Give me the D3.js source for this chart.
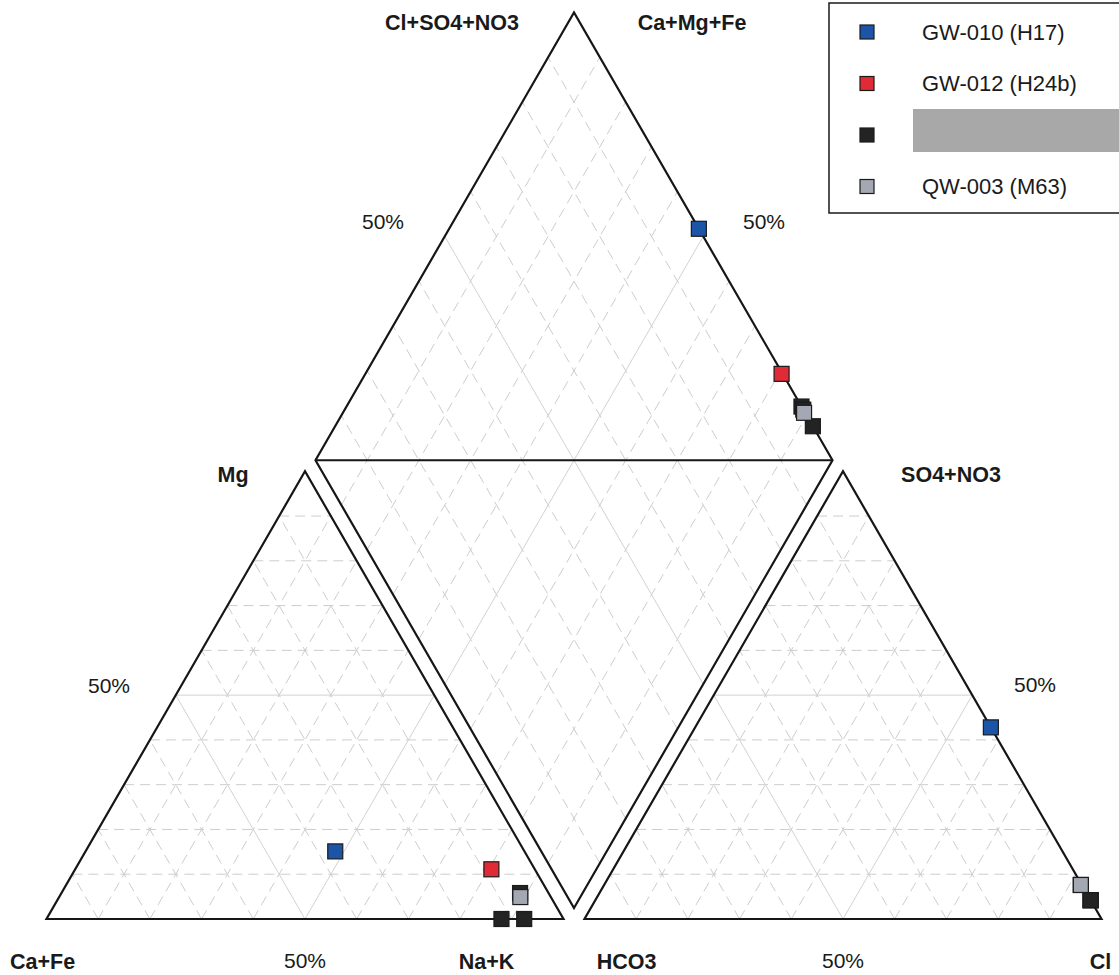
<!DOCTYPE html>
<html>
<head>
<meta charset="utf-8">
<script src="https://cdn.jsdelivr.net/npm/d3@7"></script>
<style>
  html, body { margin: 0; padding: 0; background: #fff; }
  svg { display: block; }
  text { font-family: "Liberation Sans", Arial, Helvetica, sans-serif; fill: #1a1a1a; }
</style>
</head>
<body>
<svg id="chart" width="1119" height="975"></svg>
<script>
// Piper diagram: cation triangle, anion triangle and the central diamond.

// Series (legend entries); the third entry's name is masked in the legend.
const seriesNames  = ["GW-010 (H17)", "GW-012 (H24b)", null, "QW-003 (M63)"];
const seriesColors = ["#1c54a8", "#e02a36", "#232323", "#a3a8b2"];

// One entry per sample (meq %), drawn in this order.
const sampleSeries = [0, 1, 2, 2, 2, 3];
const caFe   = [36.6, 8.4, 12.0, 7.6, 5.5, 5.9];
const mg     = [15.1, 11.1, 0.0, 0.0, 5.8, 4.9];
const naK    = caFe.map((v, i) => 100 - v - mg[i]);
const cl     = [57.2, 92.2, 95.8, 95.8, 95.8, 92.2];
const so4no3 = [42.8, 7.6, 4.2, 4.2, 4.2, 7.6];
const hco3   = cl.map((v, i) => 100 - v - so4no3[i]);

// Grid ticks (percent)
const gridTicks = [10, 20, 30, 40, 50, 60, 70, 80, 90];

// ---- geometry in units of one triangle side ----
const S = Math.sqrt(3) / 2;      // triangle height
const GAP = 21 / 517;            // gap between the two triangles
const DIA_LIFT = 11 / 517;       // diamond bottom vertex above the baseline
const RIGHT_X0 = 1 + GAP;        // left vertex of the anion triangle
const DIA_X0 = 1 + GAP / 2;      // bottom vertex of the diamond

const x = d3.scaleLinear().domain([0, 2 + GAP]).range([46.5, 1101.5]);
const y = d3.scaleLinear().domain([0, 1]).range([919, 402]);

const svg = d3.select("#chart");

// cation triangle: left = Ca+Fe, right = Na+K, top = Mg
function cationXY(ca, na, m) {
  const t = ca + na + m;
  return [(na + m / 2) / t, (m / t) * S];
}
// anion triangle: left = HCO3, right = Cl, top = SO4+NO3
function anionXY(h, c, s) {
  const t = h + c + s;
  return [RIGHT_X0 + (c + s / 2) / t, (s / t) * S];
}
// diamond: a = Cl+SO4+NO3 fraction, k = Ca+Mg+Fe fraction
function diamondXY(a, k) {
  return [DIA_X0 + 0.5 * a - 0.5 * k, DIA_LIFT + S * a + S * k];
}

const px = p => [x(p[0]), y(p[1])];
const line = d3.line().x(d => x(d[0])).y(d => y(d[1]));

// ---- grid ----
const gridG = svg.append("g").attr("fill", "none");
function gridLine(a, b, t) {
  const solid = t === 50;
  gridG.append("path")
    .attr("d", line([a, b]))
    .attr("stroke", solid ? "#d2d2d2" : "#cdcdcd")
    .attr("stroke-width", 1)
    .attr("stroke-dasharray", solid ? null : "10,6");
}

gridTicks.forEach(t => {
  const f = t / 100;
  // cation triangle
  gridLine(cationXY(1 - f, 0, f), cationXY(0, 1 - f, f), t);     // constant Mg
  gridLine(cationXY(f, 1 - f, 0), cationXY(f, 0, 1 - f), t);     // constant Ca
  gridLine(cationXY(1 - f, f, 0), cationXY(0, f, 1 - f), t);     // constant Na
  // anion triangle
  gridLine(anionXY(1 - f, 0, f), anionXY(0, 1 - f, f), t);
  gridLine(anionXY(f, 1 - f, 0), anionXY(f, 0, 1 - f), t);
  gridLine(anionXY(1 - f, f, 0), anionXY(0, f, 1 - f), t);
  // diamond
  gridLine(diamondXY(f, 0), diamondXY(f, 1), t);
  gridLine(diamondXY(0, f), diamondXY(1, f), t);
});

// ---- outlines ----
const outG = svg.append("g").attr("fill", "none")
  .attr("stroke", "#161616").attr("stroke-width", 2.2).attr("stroke-linejoin", "miter");
outG.append("path").attr("d", line([cationXY(1,0,0), cationXY(0,1,0), cationXY(0,0,1)]) + "Z");
outG.append("path").attr("d", line([anionXY(1,0,0), anionXY(0,1,0), anionXY(0,0,1)]) + "Z");
outG.append("path").attr("d", line([diamondXY(0,0), diamondXY(1,0), diamondXY(1,1), diamondXY(0,1)]) + "Z");
outG.append("path").attr("d", line([diamondXY(0,1), diamondXY(1,0)]));

// ---- samples ----
const MS = 15;
const markG = svg.append("g");
function drawMark(p, color) {
  const [cx, cy] = px(p);
  markG.append("rect")
    .attr("x", cx - MS / 2).attr("y", cy - MS / 2)
    .attr("width", MS).attr("height", MS)
    .attr("fill", color).attr("stroke", "#1b1b1b").attr("stroke-width", 1.2);
}
sampleSeries.forEach((s, i) => {
  const col = seriesColors[s];
  drawMark(cationXY(caFe[i], naK[i], mg[i]), col);
  drawMark(anionXY(hco3[i], cl[i], so4no3[i]), col);
  const a = (cl[i] + so4no3[i]) / (cl[i] + so4no3[i] + hco3[i]);
  const k = (caFe[i] + mg[i]) / (caFe[i] + mg[i] + naK[i]);
  drawMark(diamondXY(a, k), col);
});

// ---- labels ----
const labG = svg.append("g");
function label(txt, xx, yy, bold, anchor) {
  labG.append("text").attr("x", xx).attr("y", yy)
    .attr("text-anchor", anchor || "middle")
    .attr("font-size", bold ? 21.5 : 21)
    .attr("font-weight", bold ? "bold" : "normal")
    .text(txt);
}
const cL = px(cationXY(1,0,0)), cR = px(cationXY(0,1,0)), cT = px(cationXY(0,0,1));
const aL = px(anionXY(1,0,0)), aR = px(anionXY(0,1,0)), aT = px(anionXY(0,0,1));
const dT = px(diamondXY(1,1));

label("Cl+SO4+NO3", dT[0] - 122, 30, true);
label("Ca+Mg+Fe", dT[0] + 118, 30, true);
label("50%", dT[0] - 191, 229, false);
label("50%", dT[0] + 190, 229, false);
label("Mg", cT[0] - 72, 482, true);
label("SO4+NO3", aT[0] + 108, 482, true);
label("50%", cT[0] - 196, 693, false);
label("50%", aT[0] + 192, 692, false);
label("Ca+Fe", 10, 969, true, "start");
label("50%", (cL[0] + cR[0]) / 2, 968, false);
label("Na+K", cR[0] - 77, 969, true);
label("HCO3", aL[0] + 42, 969, true);
label("50%", (aL[0] + aR[0]) / 2, 968, false);
label("Cl", aR[0] - 1, 969, true);

// ---- legend ----
const legG = svg.append("g").attr("transform", "translate(829,3)");
legG.append("rect").attr("x", 0).attr("y", 0).attr("width", 320).attr("height", 210)
  .attr("fill", "#fff").attr("stroke", "#1a1a1a").attr("stroke-width", 1.5);
seriesNames.forEach((name, i) => {
  const cy = 29 + i * 51.5;
  legG.append("rect").attr("x", 38 - 7).attr("y", cy - 7).attr("width", 14).attr("height", 14)
    .attr("fill", seriesColors[i]).attr("stroke", "#1b1b1b").attr("stroke-width", 1.2);
  if (name) {
    legG.append("text").attr("x", 93).attr("y", cy + 7.5)
      .attr("font-size", 22).text(name);
  } else {
    legG.append("rect").attr("x", 84).attr("y", cy - 26).attr("width", 240).attr("height", 43)
      .attr("fill", "#a8a8a8");
  }
});
</script>
</body>
</html>
